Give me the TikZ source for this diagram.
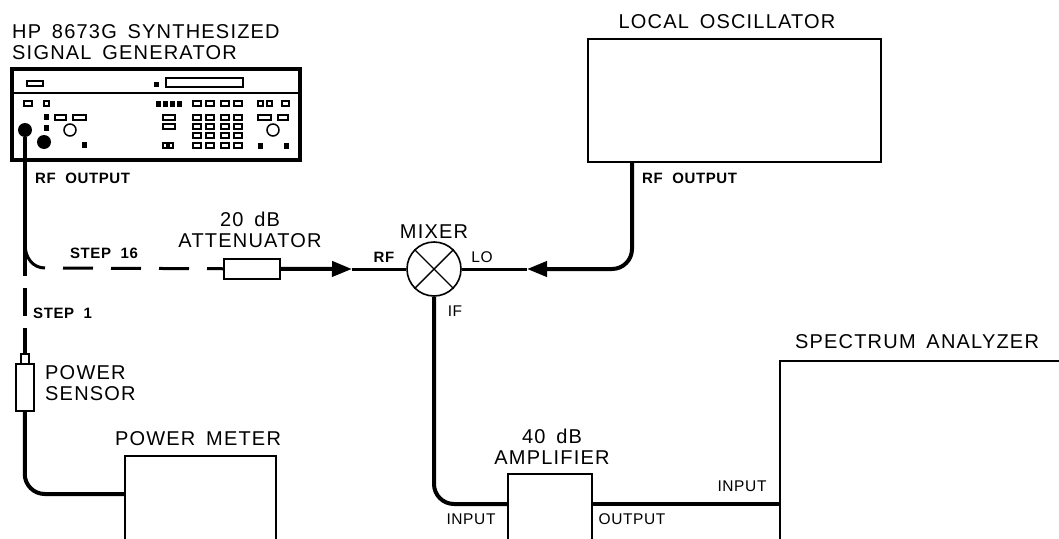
\documentclass[tikz,border=0pt]{standalone}
\usepackage{fontspec}
\usetikzlibrary{arrows.meta}
\newfontfamily\plotfont[LetterSpace=6,WordSpace=1.6]{Liberation Sans}
\newfontfamily\tagfont[LetterSpace=4,WordSpace=2]{Liberation Sans}
\tikzset{
    biglabel/.style={inner sep=0pt, align=center, font=\plotfont\fontsize{20}{21}\selectfont},
    smalllabel/.style={inner sep=0pt, font=\tagfont\fontsize{15.5}{17}\selectfont},
    boldlabel/.style={inner sep=0pt, font=\tagfont\bfseries\fontsize{15}{17}\selectfont},
    unit/.style={draw, line width=1.5pt, inner sep=0pt, anchor=north west},
    cable/.style={line width=4pt},
    lead/.style={line width=3pt},
    panelkey/.style={line width=1.4pt},
    panelfill/.style={fill, line width=1pt},
}
\begin{document}
\begin{tikzpicture}[x=1pt, y=-1pt, >={Stealth[inset=0pt, length=20pt, width=15pt]}]
    \useasboundingbox (0,0) rectangle (1059,538);
    \clip (0,0) rectangle (1059,538);
% instruments
    \node[unit, line width=4pt, minimum width=288pt, minimum height=91pt] (synth) at (10,67) {};
    \node[unit, minimum width=293pt, minimum height=123pt] (oscillator) at (587,38) {};
    \node[unit, minimum width=151pt, minimum height=120pt] (meter) at (124,455) {};
    \node[unit, minimum width=84pt, minimum height=100pt] (amp) at (507,473) {};
    \node[unit, minimum width=320pt, minimum height=220pt] (analyzer) at (779,360) {};
    \node[unit, minimum width=56pt, minimum height=20pt] (atten) at (223,258) {};
    \node[unit, minimum width=18pt, minimum height=47pt] (sensor) at (15,363) {};
    \node[unit, line width=2pt, minimum width=8pt, minimum height=10pt] (sensorcap) at (20,353) {};
    \node[draw, circle, line width=1.6pt, inner sep=0pt, minimum size=54pt] (mixer) at (434,269) {};
    \draw[line width=1.4pt] (mixer.45) -- (mixer.225);
    \draw[line width=1.4pt] (mixer.135) -- (mixer.-45);
% front panel
    \draw[line width=1.3pt] (10,93) -- (298,93);
    \draw[panelkey] (27,81) rectangle (43,86);
    \draw[panelkey] (166,78) rectangle (243,87);
    \draw[panelfill] (154,82) rectangle (158,86);
    \foreach \x/\w in {24/8, 44/5, 193/8, 206/8, 221/8, 234/8, 258/5, 267/5, 282/7}
        \draw[panelkey] (\x,101) rectangle ++(\w,5);
    \foreach \x in {156,163,170,177}
        \draw[panelfill] (\x,101) rectangle ++(4,5);
    \foreach \y in {115,124,133,143}
        \foreach \x in {193,206,221,234}
            \draw[panelkey] (\x,\y) rectangle ++(8,5);
    \foreach \x/\y/\w in {55/115/11, 73/115/13, 163/115/12, 258/115/13, 278/115/10, 163/124/12, 163/143/4, 169/143/4}
        \draw[panelkey] (\x,\y) rectangle ++(\w,5);
    \foreach \x/\y in {44/114, 44/125, 82/142, 258/143, 284/143}
        \draw[panelfill] (\x,\y) rectangle ++(4,5);
    \draw[line width=1.5pt] (70,130) circle (6);
    \draw[line width=1.5pt] (273,130) circle (6);
    \node[fill, circle, inner sep=0pt, minimum size=14pt] (knob) at (44,142) {};
    \node[fill, circle, inner sep=0pt, minimum size=14pt] (rfjack) at (25,130) {};
% labels
    \node[biglabel, align=left, anchor=north west] (synthname) at (12,24) {HP 8673G SYNTHESIZED\\SIGNAL GENERATOR};
    \node[biglabel] (oscname) at (727,22) {LOCAL OSCILLATOR};
    \node[biglabel] (attenname) at (250,230) {20 dB\\ATTENUATOR};
    \node[biglabel] (mixername) at (434,232) {MIXER};
    \node[biglabel, align=left, anchor=north west] (sensorname) at (45,365) {POWER\\SENSOR};
    \node[biglabel] (metername) at (198,439) {POWER METER};
    \node[biglabel] (ampname) at (552,447) {40 dB\\AMPLIFIER};
    \node[biglabel] (analyzername) at (917,342) {SPECTRUM ANALYZER};
    \node[boldlabel, anchor=west] (synthout) at (35,178) {RF OUTPUT};
    \node[boldlabel, anchor=west] (oscout) at (642,178) {RF OUTPUT};
    \node[boldlabel] (step16) at (104,253) {STEP 16};
    \node[boldlabel, anchor=west] (step1) at (33,313) {STEP 1};
    \node[boldlabel] (rfport) at (384,257) {RF};
    \node[smalllabel] (loport) at (482,257) {LO};
    \node[smalllabel] (ifport) at (455,311) {IF};
    \node[smalllabel] (ampinput) at (471,519) {INPUT};
    \node[smalllabel] (ampoutput) at (632,519) {OUTPUT};
    \node[smalllabel] (sainput) at (742,486) {INPUT};
% connection points
    \coordinate (tee) at (25,276);
    \coordinate (branch) at (25,244);
    \coordinate (branchend) at (45,268);
    \coordinate (meterin) at (124,494);
    \coordinate (ampin) at (507,504);
    \coordinate (ampout) at (591,504);
    \coordinate (sain) at (779,504);
    \coordinate (oscjack) at (632,161);
    \coordinate (rfarrow) at (352,269);
    \coordinate (loarrow) at (527,269);
% cables
    \draw[cable] (rfjack) -- (tee);
    \draw[cable, dash pattern=on 28pt off 12pt, dash phase=28pt] (tee) -- (sensorcap.north);
    \draw[lead] (branch) .. controls (25,258) and (33,268) .. (branchend);
    \draw[lead, dash pattern=on 30pt off 18pt, dash phase=30pt] (branchend) -- (atten.west);
    \draw[cable, ->] (atten.east) -- (rfarrow);
    \draw[lead] (rfarrow) -- (mixer.west);
    \draw[cable, rounded corners=20pt, ->] (oscjack) |- (loarrow);
    \draw[lead] (loarrow) -- (mixer.east);
    \draw[cable, rounded corners=20pt] (sensor.south) |- (meterin);
    \draw[cable, rounded corners=20pt] (mixer.south) |- (ampin);
    \draw[cable] (ampout) -- (sain);
\end{tikzpicture}
\end{document}
